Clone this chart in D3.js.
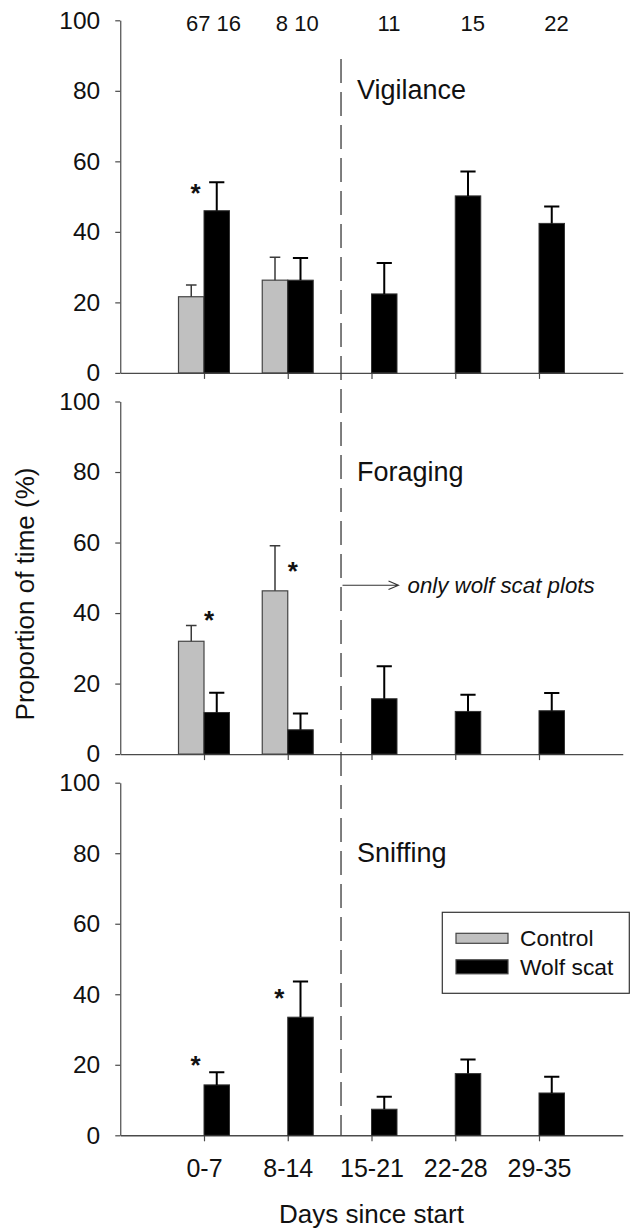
<!DOCTYPE html>
<html>
<head>
<meta charset="utf-8">
<script src="https://cdn.jsdelivr.net/npm/d3@7"></script>
<style>
  html, body { margin: 0; padding: 0; background: #fff; }
  svg { display: block; font-family: "Liberation Sans", Arial, sans-serif; }
</style>
</head>
<body>
<svg id="chart" width="631" height="1228"></svg>
<script>
// ---------------- DATA ----------------
const categories = ["0-7", "8-14", "15-21", "22-28", "29-35"];
const sampleSizes = ["67 16", "8 10", "11", "15", "22"];
const panelTitles = ["Vigilance", "Foraging", "Sniffing"];
const seriesNames = ["Control", "Wolf scat"];
const yTicks = [0, 20, 40, 60, 80, 100];

// Vigilance
const vigControl   = [21.6, 26.3, null, null, null];
const vigControlSE = [3.3, 6.5, null, null, null];
const vigWolf      = [46.0, 26.3, 22.4, 50.2, 42.4];
const vigWolfSE    = [8.1, 6.3, 8.8, 6.9, 4.8];
const vigStars     = [{ cat: 0, side: "left", level: 52.7 }];

// Foraging
const forControl   = [32.0, 46.3, null, null, null];
const forControlSE = [4.5, 12.8, null, null, null];
const forWolf      = [11.8, 6.9, 15.7, 12.1, 12.3];
const forWolfSE    = [5.6, 4.6, 9.2, 4.7, 5.0];
const forStars     = [{ cat: 0, side: "right", level: 39.6 }, { cat: 1, side: "right", level: 53.6 }];

// Sniffing
const sniControl   = [null, null, null, null, null];
const sniControlSE = [null, null, null, null, null];
const sniWolf      = [14.3, 33.5, 7.4, 17.5, 12.0];
const sniWolfSE    = [3.6, 10.1, 3.5, 4.0, 4.6];
const sniStars     = [{ cat: 0, side: "left", level: 21.7 }, { cat: 1, side: "left", level: 40.7 }];

const dividerAt = 1.636;      // category-axis position of the dashed divider
const noteLevel = 47.9;       // y-level of the "only wolf scat plots" arrow (Foraging panel)
const noteText = "only wolf scat plots";

// ---------------- LAYOUT ----------------
const svg = d3.select("#chart");
const axisColor = "#4a4a4a";
const controlFill = "#c0c0c0";
const wolfFill = "#000000";
const barW = 25.5;

const x = d3.scaleLinear().domain([-1, 5]).range([120.25, 622.75]);

const panels = [
  { title: panelTitles[0], control: vigControl, controlSE: vigControlSE, wolf: vigWolf, wolfSE: vigWolfSE, stars: vigStars },
  { title: panelTitles[1], control: forControl, controlSE: forControlSE, wolf: forWolf, wolfSE: forWolfSE, stars: forStars },
  { title: panelTitles[2], control: sniControl, controlSE: sniControlSE, wolf: sniWolf, wolfSE: sniWolfSE, stars: sniStars }
];

const panelTop0 = 20.3, panelStep = 381.2, panelH = 352.6;
const yScales = panels.map((p, k) =>
  d3.scaleLinear().domain([0, 100]).range([panelTop0 + k * panelStep + panelH, panelTop0 + k * panelStep]));

panels.forEach((p, k) => {
  const y = yScales[k];
  const g = svg.append("g");

  // Y axis
  const ya = g.append("g").attr("transform", `translate(${x(-1)},0)`)
    .call(d3.axisLeft(y).tickValues(yTicks).tickSize(5).tickPadding(15).tickSizeOuter(0));
  ya.select(".domain").attr("stroke", axisColor).attr("stroke-width", 1.2);
  ya.selectAll(".tick line").attr("stroke", axisColor).attr("stroke-width", 1.2);
  ya.selectAll(".tick text").attr("font-size", 24.5).attr("fill", "#111")
    .attr("font-family", "Liberation Sans, Arial, sans-serif");

  // X axis
  const xa = g.append("g").attr("transform", `translate(0,${y(0)})`)
    .call(d3.axisBottom(x).tickValues(d3.range(categories.length)).tickSize(6).tickPadding(18).tickSizeOuter(0)
      .tickFormat(k === 2 ? (i => categories[i]) : () => ""));
  xa.select(".domain").attr("stroke", axisColor).attr("stroke-width", 1.4);
  xa.selectAll(".tick line").attr("stroke", axisColor).attr("stroke-width", 1.2);
  xa.selectAll(".tick text").attr("font-size", 25).attr("fill", "#111")
    .attr("font-family", "Liberation Sans, Arial, sans-serif");

  // Control bars
  const ctrl = categories.map((c, i) => ({ i, v: p.control[i], se: p.controlSE[i] })).filter(d => d.v != null);
  g.selectAll(".cbar").data(ctrl).join("rect")
    .attr("x", d => x(d.i) - barW).attr("width", barW)
    .attr("y", d => y(d.v)).attr("height", d => y(0) - y(d.v))
    .attr("fill", controlFill).attr("stroke", "#444").attr("stroke-width", 1.2);
  g.selectAll(".cerr").data(ctrl).join("path")
    .attr("d", d => {
      const cx = x(d.i) - barW / 2, t = y(d.v + d.se);
      return `M${cx},${y(d.v)}V${t}M${cx - 5.3},${t}H${cx + 5.3}`;
    })
    .attr("fill", "none").attr("stroke", "#3a3a3a").attr("stroke-width", 1.5);

  // Wolf bars
  const wolf = categories.map((c, i) => ({ i, v: p.wolf[i], se: p.wolfSE[i] })).filter(d => d.v != null);
  g.selectAll(".wbar").data(wolf).join("rect")
    .attr("x", d => x(d.i)).attr("width", barW)
    .attr("y", d => y(d.v)).attr("height", d => y(0) - y(d.v))
    .attr("fill", wolfFill).attr("stroke", "#333").attr("stroke-width", 1);
  g.selectAll(".werr").data(wolf).join("path")
    .attr("d", d => {
      const cx = x(d.i) + barW / 2, t = y(d.v + d.se);
      return `M${cx},${y(d.v)}V${t}M${cx - 7.6},${t}H${cx + 7.6}`;
    })
    .attr("fill", "none").attr("stroke", "#000").attr("stroke-width", 2);

  // Significance asterisks
  g.selectAll(".star").data(p.stars).join("text")
    .attr("x", d => x(d.cat) + (d.side === "left" ? -8.5 : 5))
    .attr("y", d => y(d.level) + 15)
    .attr("text-anchor", "middle").attr("font-size", 26).attr("font-weight", "bold").attr("fill", "#111")
    .text("*");

  // Panel title
  g.append("text")
    .attr("x", x(dividerAt) + 16).attr("y", y(80) + 8.5)
    .attr("font-size", 27).attr("fill", "#111")
    .text(p.title);
});

// Sample sizes above top panel
svg.append("g").selectAll("text").data(sampleSizes).join("text")
  .attr("x", (d, i) => x(i) + (vigControl[i] != null ? 9.5 : 17.5))
  .attr("y", 30.7)
  .attr("text-anchor", "middle").attr("font-size", 22).attr("fill", "#111")
  .text(d => d);

// Dashed divider
svg.append("line")
  .attr("x1", x(dividerAt)).attr("x2", x(dividerAt))
  .attr("y1", yScales[0](89)).attr("y2", yScales[2](0))
  .attr("stroke", "#3a3a3a").attr("stroke-width", 1.3)
  .attr("stroke-dasharray", "24,9");

// Arrow note in Foraging panel
const yN = yScales[1](noteLevel);
const ax0 = x(dividerAt) + 1.5, ax1 = ax0 + 56;
svg.append("path")
  .attr("d", `M${ax0},${yN}H${ax1}M${ax1 - 10},${yN - 4.3}L${ax1},${yN}L${ax1 - 10},${yN + 4.3}`)
  .attr("fill", "none").attr("stroke", "#333").attr("stroke-width", 1.1);
svg.append("text")
  .attr("x", ax1 + 9).attr("y", yN + 7.5)
  .attr("font-size", 22.3).attr("font-style", "italic").attr("fill", "#111")
  .text(noteText);

// Legend (bottom panel)
const leg = svg.append("g");
leg.append("rect").attr("x", 442.3).attr("y", 912.3).attr("width", 187).attr("height", 81)
  .attr("fill", "#fff").attr("stroke", "#333").attr("stroke-width", 1.2);
const legItems = seriesNames.map((n, i) => ({ n, fill: i === 0 ? controlFill : wolfFill, h: i === 0 ? 10 : 14, cy: i === 0 ? 938.3 : 966.8 }));
leg.selectAll(".sw").data(legItems).join("rect")
  .attr("x", 456).attr("width", 52)
  .attr("y", d => d.cy - d.h / 2).attr("height", d => d.h)
  .attr("fill", d => d.fill).attr("stroke", "#444").attr("stroke-width", 1.2);
leg.selectAll(".lt").data(legItems).join("text")
  .attr("x", 520).attr("y", d => d.cy + 8)
  .attr("font-size", 22.8).attr("fill", "#111")
  .text(d => d.n);

// Axis titles
svg.append("text")
  .attr("x", x(2)).attr("y", 1223.3)
  .attr("text-anchor", "middle").attr("font-size", 26).attr("fill", "#111")
  .text("Days since start");
svg.append("text")
  .attr("transform", "translate(34,594) rotate(-90)")
  .attr("text-anchor", "middle").attr("font-size", 26).attr("fill", "#111")
  .text("Proportion of time (%)");
</script>
</body>
</html>
